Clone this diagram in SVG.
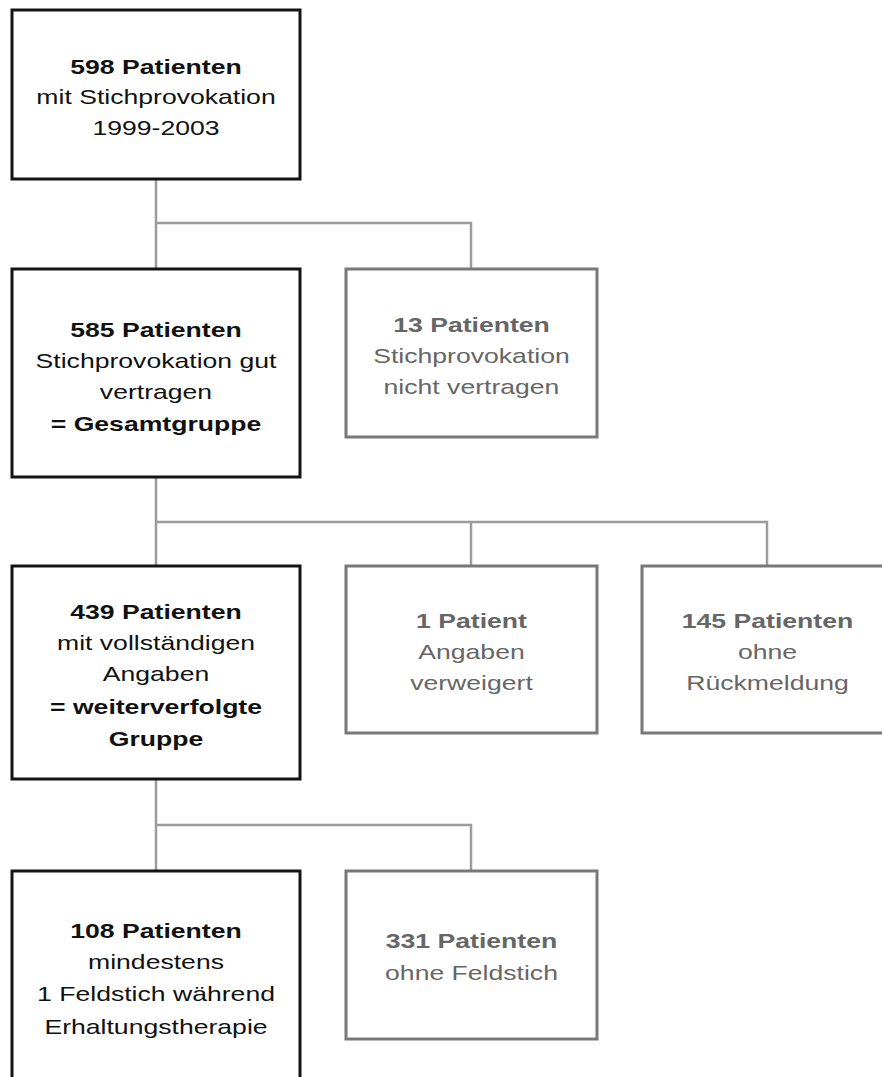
<svg xmlns="http://www.w3.org/2000/svg" width="882" height="1077" viewBox="0 0 882 1077">
<style>
.main{fill:#fff;stroke:#141414;stroke-width:3}
.side{fill:#fff;stroke:#787878;stroke-width:3}
.conn{fill:none;stroke:#9c9c9c;stroke-width:2.5}
text{font-family:"Liberation Sans",Arial,sans-serif;font-size:20px;text-anchor:middle}
.m text{fill:#111}
.s text{fill:#666}
.b{font-weight:bold}
</style>
<rect width="882" height="1077" fill="#fff"/>
<g id="connectors" class="conn">
<path d="M156 179V269M156 223H471V269"/>
<path d="M156 477V566M156 522H767V566M471 522V566"/>
<path d="M156 779V871M156 825H471V871"/>
</g>
<g id="n598" class="m">
<rect class="main" x="12" y="10" width="288" height="169"/>
<g transform="translate(156 0) scale(1.33 1)">
<text class="b" x="0" y="74">598 Patienten</text>
<text x="0" y="104">mit Stichprovokation</text>
<text x="0" y="135">1999-2003</text>
</g>
</g>
<g id="n585" class="m">
<rect class="main" x="12" y="269" width="288" height="208"/>
<g transform="translate(156 0) scale(1.33 1)">
<text class="b" x="0" y="337">585 Patienten</text>
<text x="0" y="368">Stichprovokation gut</text>
<text x="0" y="399">vertragen</text>
<text class="b" x="0" y="431">= Gesamtgruppe</text>
</g>
</g>
<g id="n13" class="s">
<rect class="side" x="346" y="269" width="251" height="168"/>
<g transform="translate(471.5 0) scale(1.33 1)">
<text class="b" x="0" y="332">13 Patienten</text>
<text x="0" y="363">Stichprovokation</text>
<text x="0" y="394">nicht vertragen</text>
</g>
</g>
<g id="n439" class="m">
<rect class="main" x="12" y="566" width="288" height="213"/>
<g transform="translate(156 0) scale(1.33 1)">
<text class="b" x="0" y="619">439 Patienten</text>
<text x="0" y="650">mit vollständigen</text>
<text x="0" y="681">Angaben</text>
<text class="b" x="0" y="714">= weiterverfolgte</text>
<text class="b" x="0" y="746">Gruppe</text>
</g>
</g>
<g id="n1" class="s">
<rect class="side" x="346" y="566" width="251" height="167"/>
<g transform="translate(471.5 0) scale(1.33 1)">
<text class="b" x="0" y="628">1 Patient</text>
<text x="0" y="659">Angaben</text>
<text x="0" y="690">verweigert</text>
</g>
</g>
<g id="n145" class="s">
<rect class="side" x="642" y="566" width="251" height="167"/>
<g transform="translate(767.5 0) scale(1.33 1)">
<text class="b" x="0" y="628">145 Patienten</text>
<text x="0" y="659">ohne</text>
<text x="0" y="690">Rückmeldung</text>
</g>
</g>
<g id="n108" class="m">
<rect class="main" x="12" y="871" width="288" height="230"/>
<g transform="translate(156 0) scale(1.33 1)">
<text class="b" x="0" y="938">108 Patienten</text>
<text x="0" y="969">mindestens</text>
<text x="0" y="1001">1 Feldstich während</text>
<text x="0" y="1034">Erhaltungstherapie</text>
</g>
</g>
<g id="n331" class="s">
<rect class="side" x="346" y="871" width="251" height="168"/>
<g transform="translate(471.5 0) scale(1.33 1)">
<text class="b" x="0" y="948">331 Patienten</text>
<text x="0" y="980">ohne Feldstich</text>
</g>
</g>
</svg>
